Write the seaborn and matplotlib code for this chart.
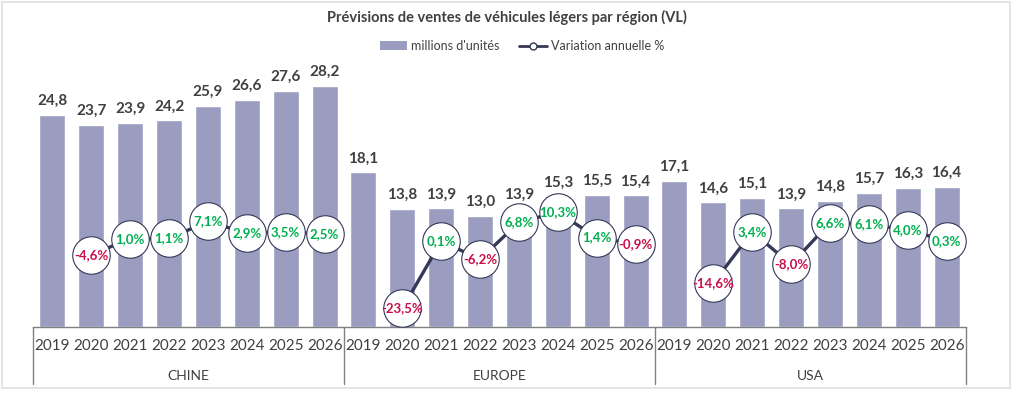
import numpy as np
import pandas as pd
import matplotlib
matplotlib.use("Agg")
import matplotlib.pyplot as plt
import matplotlib.transforms as mtransforms
from matplotlib.lines import Line2D
from matplotlib.patches import Patch, Rectangle
import seaborn as sns

# Data
regions = ["CHINE", "EUROPE", "USA"]
years = ["2019", "2020", "2021", "2022", "2023", "2024", "2025", "2026"]
ventes_chine = [24.8, 23.7, 23.9, 24.2, 25.9, 26.6, 27.6, 28.2]
ventes_europe = [18.1, 13.8, 13.9, 13.0, 13.9, 15.3, 15.5, 15.4]
ventes_usa = [17.1, 14.6, 15.1, 13.9, 14.8, 15.7, 16.3, 16.4]
var_chine = [None, -4.6, 1.0, 1.1, 7.1, 2.9, 3.5, 2.5]
var_europe = [None, -23.5, 0.1, -6.2, 6.8, 10.3, 1.4, -0.9]
var_usa = [None, -14.6, 3.4, -8.0, 6.6, 6.1, 4.0, 0.3]

ventes = ventes_chine + ventes_europe + ventes_usa
variation = var_chine + var_europe + var_usa
df = pd.DataFrame({
    "region": np.repeat(regions, len(years)),
    "annee": years * len(regions),
    "ventes": ventes,
    "variation": variation,
})
df["cat"] = df["region"] + "_" + df["annee"]
df["pos"] = np.arange(len(df))

sns.set_style("white")
plt.rcParams["font.family"] = ["Lato", "DejaVu Sans"]

bar_color = "#9b9dc0"
line_color = "#353857"
text_color = "#404040"
green = "#00b050"
red = "#c8104a"
axis_color = "#808080"

fig = plt.figure(figsize=(10.13, 3.93), dpi=100)
ax = fig.add_axes([0.0326, 0.168, 0.921, 0.652])

sns.barplot(data=df, x="cat", y="ventes", color=bar_color, width=0.67,
            saturation=1, ax=ax)
ax.set_ylim(0, 30)
ax.set_xlim(-0.5, len(df) - 0.5)

for p, v in zip(df["pos"], df["ventes"]):
    ax.annotate(f"{v:.1f}".replace(".", ","), (p, v), xytext=(0, 5),
                textcoords="offset points", ha="center", va="bottom",
                fontsize=11, fontweight="bold", color=text_color)

ax.set_xticks(df["pos"])
ax.set_xticklabels(df["annee"], fontsize=11, color=text_color)
ax.tick_params(axis="x", length=0, pad=9)
ax.set_yticks([])
ax.set_xlabel("")
ax.set_ylabel("")
for s in ["left", "right", "top"]:
    ax.spines[s].set_visible(False)
ax.spines["bottom"].set_color(axis_color)
ax.spines["bottom"].set_linewidth(1)

# secondary axis: variation annuelle
ax2 = ax.twinx()
ax2.set_ylim(-30, 60)
for r in regions:
    sub = df[(df["region"] == r) & df["variation"].notna()]
    sns.lineplot(x=sub["pos"].values, y=sub["variation"].astype(float).values,
                 ax=ax2, color=line_color, lw=2.4, marker="o", markersize=27,
                 markerfacecolor="white", markeredgecolor=line_color,
                 markeredgewidth=0.8, zorder=3)
    for p, v in zip(sub["pos"], sub["variation"]):
        ax2.text(p, v, f"{v:.1f}%".replace(".", ","), ha="center", va="center",
                 fontsize=9.5, fontweight="bold", color=green if v >= 0 else red,
                 zorder=4)
ax2.set_yticks([])
ax2.set_ylabel("")
ax2.set_xlim(-0.5, len(df) - 0.5)
for s in ax2.spines.values():
    s.set_visible(False)

# multi-level category axis: separators and region labels
trans = mtransforms.blended_transform_factory(ax.transData, ax.transAxes)
for xsep in [-0.5, 7.5, 15.5, 23.5]:
    ax.plot([xsep, xsep], [0, -0.222], transform=trans, color=axis_color,
            lw=1, clip_on=False)
for i, r in enumerate(regions):
    ax.text(i * len(years) + (len(years) - 1) / 2, -0.193, r, transform=trans,
            ha="center", va="center", fontsize=10, color=text_color)

fig.suptitle("Prévisions de ventes de véhicules légers par région (VL)",
             x=0.5, y=0.975, fontsize=10.5, fontweight="bold", color=text_color)

handles = [
    Patch(facecolor=bar_color, edgecolor="none"),
    Line2D([0], [0], color=line_color, lw=2, marker="o", markersize=5,
           markerfacecolor="white", markeredgecolor=line_color),
]
fig.legend(handles, ["millions d'unités", "Variation annuelle %"],
           loc="center", bbox_to_anchor=(0.515, 0.883), ncol=2, frameon=False,
           fontsize=9, handlelength=2.2, columnspacing=1.6, handletextpad=0.3,
           labelcolor=text_color)

fig.patches.append(Rectangle((0.002, 0.012), 0.995, 0.982,
                             transform=fig.transFigure, fill=False,
                             edgecolor="#e0e0e0", lw=1.2))

fig.savefig("out.png", dpi=100)
